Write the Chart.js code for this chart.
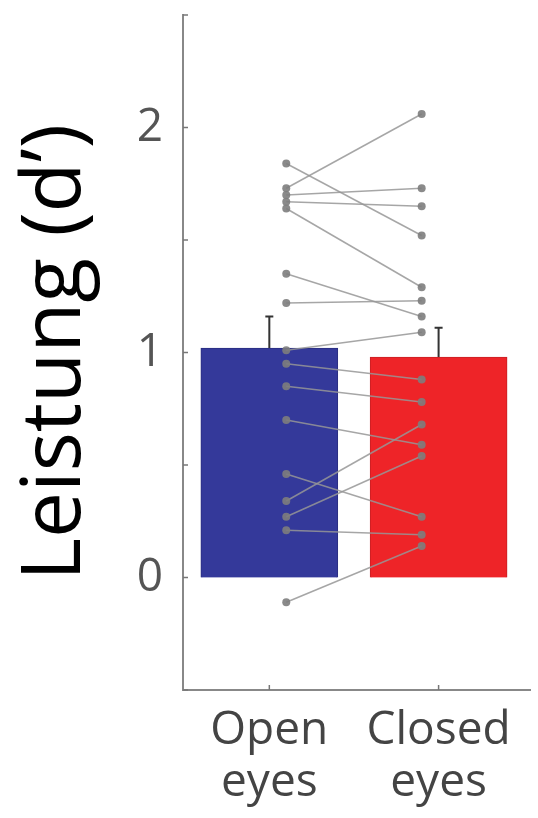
<!DOCTYPE html>
<html>
<head>
<meta charset="utf-8">
<script src="https://cdn.jsdelivr.net/npm/chart.js@4"></script>
<style>
  body { margin: 0; background: #fff; }
  #wrap { width: 538px; height: 818px; }
</style>
</head>
<body>
<div id="wrap"><canvas id="dprime"></canvas></div>
<script>
// --- data ---
const categories = ['Open eyes', 'Closed eyes'];
const tickLabels = [['Open', 'eyes'], ['Closed', 'eyes']];
const means = [1.02, 0.98];
const sem = [0.14, 0.13];
// per-subject d' (same order in both arrays)
const openEyes   = [1.84, 1.73, 1.70, 1.67, 1.64, 1.35, 1.22, 1.01, 0.95, 0.85, 0.70, 0.46, 0.34, 0.27, 0.21, -0.11];
const closedEyes = [1.52, 2.06, 1.73, 1.65, 1.29, 1.16, 1.23, 1.09, 0.88, 0.78, 0.59, 0.27, 0.68, 0.54, 0.19, 0.14];
const yTicks = [-0.5, 0, 0.5, 1, 1.5, 2, 2.5];

const barColors = ['#34399a', '#ee2428'];
const pointOffset = 0.1;  // subject dots sit a bit inward of the bar centres

const subjectSets = openEyes.map((v, i) => ({
    type: 'line',
    data: [{ x: 1 + pointOffset, y: v }, { x: 2 - pointOffset, y: closedEyes[i] }],
    borderColor: 'rgba(150,150,150,0.85)',
    borderWidth: 1.5,
    pointRadius: 4,
    pointBackgroundColor: 'rgba(125,125,125,0.9)',
    pointBorderWidth: 0,
    order: 0
}));

// error bars (upper half only, like the original) + inward axis ticks
const extras = {
    id: 'extras',
    afterDatasetsDraw(chart) {
        const { ctx, scales: { x, y } } = chart;
        ctx.save();
        ctx.strokeStyle = '#333';
        ctx.lineWidth = 2;
        means.forEach((m, i) => {
            const px = x.getPixelForValue(i + 1);
            const top = y.getPixelForValue(m + sem[i]);
            ctx.beginPath();
            ctx.moveTo(px, y.getPixelForValue(m));
            ctx.lineTo(px, top);
            ctx.moveTo(px - 4, top);
            ctx.lineTo(px + 4, top);
            ctx.stroke();
        });
        ctx.strokeStyle = '#777';
        ctx.lineWidth = 1.5;
        const ax = chart.chartArea.left;
        yTicks.forEach(v => {
            const py = y.getPixelForValue(v);
            ctx.beginPath();
            ctx.moveTo(ax, py);
            ctx.lineTo(ax + 5, py);
            ctx.stroke();
        });
        const ay = chart.chartArea.bottom;
        [1, 2].forEach(v => {
            const px = x.getPixelForValue(v);
            ctx.beginPath();
            ctx.moveTo(px, ay);
            ctx.lineTo(px, ay - 5);
            ctx.stroke();
        });
        ctx.restore();
    }
};

const chart = new Chart(document.getElementById('dprime'), {
    data: {
        datasets: [{
            type: 'bar',
            label: 'Mittelwert',
            data: means.map((m, i) => ({ x: i + 1, y: m })),
            backgroundColor: barColors,
            borderColor: ['#2a2e80', '#c82024'],
            borderWidth: 1,
            barThickness: 137,
            order: 10
        }, ...subjectSets]
    },
    options: {
        responsive: true,
        maintainAspectRatio: false,
        animation: false,
        layout: { padding: { top: 15, right: 8, left: 16, bottom: 0 } },
        plugins: { legend: { display: false }, tooltip: { enabled: false } },
        scales: {
            x: {
                type: 'linear',
                offset: false,
                min: 0.49,
                max: 2.54,
                afterBuildTicks: axis => { axis.ticks = [{ value: 1 }, { value: 2 }]; },
                afterFit: axis => { axis.height = 128; },
                grid: { display: false, drawTicks: false },
                border: { color: '#888', width: 2 },
                ticks: {
                    padding: 14,
                    color: '#444',
                    font: { family: 'Open Sans', size: 46, lineHeight: 1.15 },
                    callback: v => tickLabels[v - 1] || null
                }
            },
            y: {
                min: -0.5,
                max: 2.5,
                afterBuildTicks: axis => { axis.ticks = yTicks.map(v => ({ value: v })); },
                afterFit: axis => {
                    axis.width = 167;
                    axis.paddingTop = 0;
                    axis.paddingBottom = 0;
                },
                grid: { display: false, drawTicks: false },
                border: { color: '#888', width: 2 },
                ticks: {
                    padding: 20,
                    color: '#555',
                    font: { family: 'Open Sans', size: 46 },
                    callback: v => Number.isInteger(v) ? String(v) : null
                },
                title: {
                    display: true,
                    text: 'Leistung (d\u2019)',
                    color: '#000',
                    padding: 0,
                    font: { family: 'Open Sans', size: 82, lineHeight: 1 }
                }
            }
        }
    },
    plugins: [extras]
});
</script>
</body>
</html>
